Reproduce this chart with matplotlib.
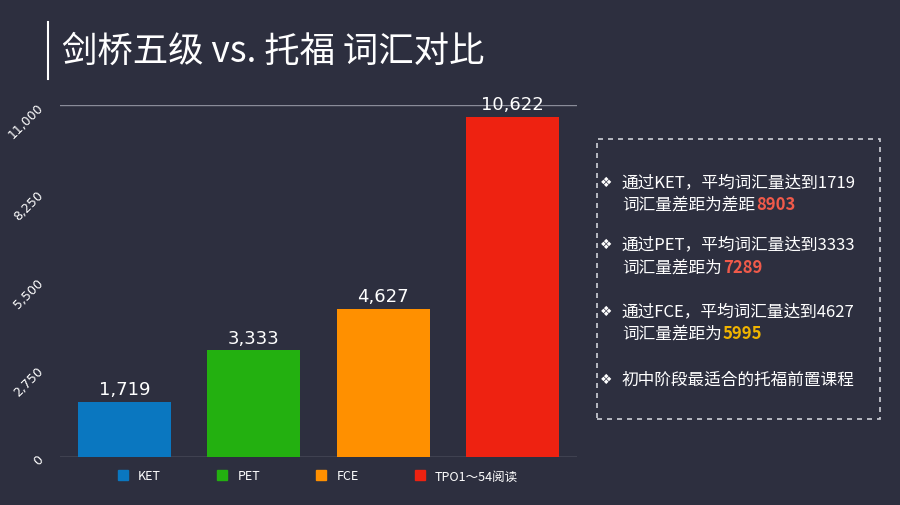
import matplotlib
matplotlib.use("Agg")
import matplotlib.pyplot as plt
from matplotlib.patches import Patch, Rectangle
from matplotlib.lines import Line2D

categories = ["KET", "PET", "FCE", "TPO1～54阅读"]
values = [1719, 3333, 4627, 10622]
colors = ["#0a77c0", "#23b010", "#ff9000", "#ee2211"]
yticks = [0, 2750, 5500, 8250, 11000]
ytick_labels = ["0", "2,750", "5,500", "8,250", "11,000"]

BG = "#2d2f3f"
plt.rcParams["font.family"] = ["Noto Sans CJK SC", "Noto Sans CJK JP", "Noto Sans CJK TC", "DejaVu Sans"]

W, H = 900, 506
fig = plt.figure(figsize=(9, 5.06), dpi=100, facecolor=BG)
ax = fig.add_axes([60/W, 1-458/H, (577-60)/W, (458-106)/H], facecolor=BG)
x = list(range(len(values)))
ax.bar(x, values, width=0.72, color=colors)
ax.set_xlim(-0.5, 3.5)
ax.set_ylim(0, 11000)
ax.set_yticks(yticks)
ax.set_yticklabels(ytick_labels, rotation=45, color="white", fontsize=9, fontfamily="DejaVu Sans")
ax.tick_params(axis="y", length=0, pad=10)
ax.set_xticks([])
for s in ax.spines.values():
    s.set_visible(False)
for yv in (yticks[0], yticks[-1]):
    ax.axhline(yv, color="#8a8c99", lw=1, zorder=0)
for xi, v in zip(x, values):
    ax.text(xi, v + 120, f"{v:,}", ha="center", va="bottom", color="white", fontsize=13, fontfamily="DejaVu Sans")

handles = [Patch(color=c) for c in colors]
fig.legend(handles, categories, loc="center", bbox_to_anchor=(318/W, 1-477/H), ncol=4,
           frameon=False, labelcolor="white", fontsize=9, handlelength=0.8, handleheight=0.8,
           columnspacing=4.5, handletextpad=0.8)

fig.add_artist(Line2D([48/W, 48/W], [1-23/H, 1-80/H], color="white", lw=1.5))
fig.text(62/W, 1-52/H, "剑桥五级 vs. 托福 词汇对比", color="white", fontsize=25.5, va="center")

fig.add_artist(Rectangle((597/W, 1-420/H), (880-597)/W, (420-140)/H, fill=False,
                         ec="#cfd0d8", ls=(0, (3, 3)), lw=1.2))
lines = [
    (183, "❖ 通过KET，平均词汇量达到1719", None, None),
    (205, "词汇量差距为差距", "8903", "#f05a4a"),
    (245, "❖ 通过PET，平均词汇量达到3333", None, None),
    (268, "词汇量差距为", "7289", "#f05a4a"),
    (312, "❖ 通过FCE，平均词汇量达到4627", None, None),
    (334, "词汇量差距为", "5995", "#f0b400"),
    (380, "❖ 初中阶段最适合的托福前置课程", None, None),
]
fig.canvas.draw()
r = fig.canvas.get_renderer()
for y, t, num, col in lines:
    if t.startswith("❖"):
        fig.text(600/W, 1-y/H, "❖", color="white", fontsize=10, va="center", fontfamily="DejaVu Sans")
        fig.text(622/W, 1-y/H, t[2:], color="white", fontsize=12, va="center")
    else:
        tt = fig.text(622/W, 1-y/H, t, color="white", fontsize=12, va="center")
        bb = tt.get_window_extent(r)
        fig.text(bb.x1/W + 1/W, 1-y/H, num, color=col, fontsize=12, va="center", fontweight="bold")

fig.savefig("out.png", dpi=100, facecolor=BG)
